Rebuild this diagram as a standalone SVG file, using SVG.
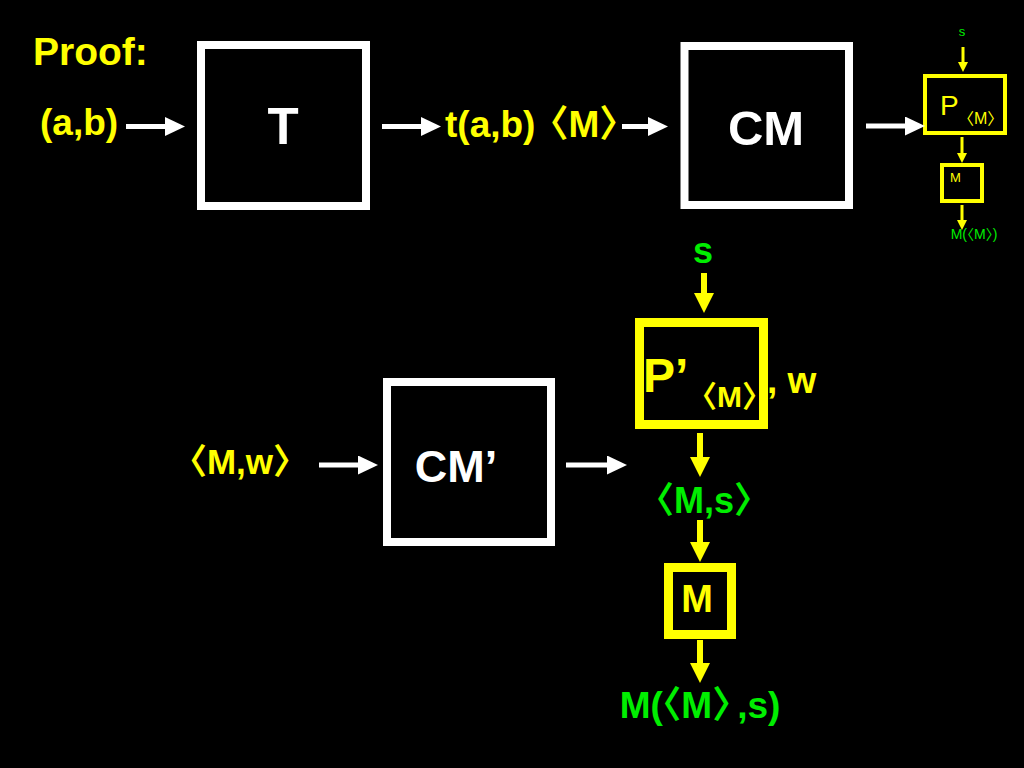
<svg xmlns="http://www.w3.org/2000/svg" width="1024" height="768" viewBox="0 0 1024 768">
<style>
.t{font-family:"Liberation Sans","Noto Sans CJK SC",sans-serif;font-weight:bold}
.r{font-family:"Liberation Sans","Noto Sans CJK SC",sans-serif}
.y{fill:#ffff00}.g{fill:#00ee00}.w{fill:#ffffff}
.wb{fill:none;stroke:#ffffff;stroke-width:8}
.yb{fill:none;stroke:#ffff00;stroke-width:9}
.ys{fill:none;stroke:#ffff00;stroke-width:4}
.wa{stroke:#ffffff;stroke-width:5;marker-end:url(#wh)}
.ya{stroke:#ffff00;stroke-width:6;marker-end:url(#yh)}
.yas{stroke:#ffff00;stroke-width:3;marker-end:url(#ysh)}
</style>
<defs>
<marker id="wh" markerUnits="userSpaceOnUse" markerWidth="20" markerHeight="19" refX="10" refY="9.5" orient="auto"><path d="M0,0 L20,9.5 L0,19 Z" fill="#ffffff"/></marker>
<marker id="yh" markerUnits="userSpaceOnUse" markerWidth="20" markerHeight="20" refX="10" refY="10" orient="auto"><path d="M0,0 L20,10 L0,20 Z" fill="#ffff00"/></marker>
<marker id="ysh" markerUnits="userSpaceOnUse" markerWidth="10" markerHeight="10" refX="4" refY="5" orient="auto"><path d="M0,0 L10,5 L0,10 Z" fill="#ffff00"/></marker>
</defs>
<rect width="1024" height="768" fill="#000000"/>
<text class="t y" x="33" y="65" font-size="39">Proof:</text>
<text class="t y" x="40" y="135" font-size="37">(a,b)</text>
<g id="T"><rect class="wb" x="201" y="45" width="165" height="161"/><text class="t w" x="283" y="144" font-size="51" text-anchor="middle">T</text></g>
<text class="t y" x="445" y="137" font-size="37">t(a,b)<tspan dx="-4">〈M〉</tspan></text>
<g id="CM"><rect class="wb" x="684.5" y="46" width="164.5" height="159"/><text class="t w" x="766" y="145" font-size="49" text-anchor="middle">CM</text></g>
<g id="P_small"><rect class="ys" x="925" y="76" width="80" height="57"/><text class="r y" x="940" y="115" font-size="28">P</text><text class="r y" x="958" y="124" font-size="16">〈M〉</text></g>
<g id="M_small"><rect class="ys" x="942" y="165" width="40" height="36"/><text class="r y" x="950" y="182" font-size="13">M</text></g>
<text class="r g" x="962" y="36" font-size="13" text-anchor="middle">s</text>
<text class="r g" x="974" y="239" font-size="14" text-anchor="middle">M(〈M〉)</text>
<text class="t g" x="703" y="263" font-size="36" text-anchor="middle">s</text>
<g id="Pprime"><rect class="yb" x="639.5" y="322.5" width="124" height="102"/><text class="t y" x="643" y="392" font-size="48">P’</text><text class="t y" x="687" y="407" font-size="30">〈M〉</text></g>
<text class="t y" x="767" y="393" font-size="37">, w</text>
<text class="t g" x="704" y="513" font-size="36" text-anchor="middle">〈M,s〉</text>
<g id="M"><rect class="yb" x="668.5" y="567.5" width="63" height="67"/><text class="t y" x="697" y="612" font-size="38" text-anchor="middle">M</text></g>
<text class="t g" x="700" y="718" font-size="37" text-anchor="middle">M(〈M〉<tspan dx="-12">,s)</tspan></text>
<g id="CMprime"><rect class="wb" x="387" y="382" width="164" height="160"/><text class="t w" x="456" y="482" font-size="45" text-anchor="middle">CM’</text></g>
<text class="t y" x="240" y="474" font-size="35" text-anchor="middle">〈M,w〉</text>
<g id="connectors">
<line class="wa" x1="126" y1="126.5" x2="175" y2="126.5"/>
<line class="wa" x1="382" y1="126.5" x2="431" y2="126.5"/>
<line class="wa" x1="622" y1="126.5" x2="658" y2="126.5"/>
<line class="wa" x1="866" y1="126" x2="915" y2="126"/>
<line class="wa" x1="319" y1="465" x2="368" y2="465"/>
<line class="wa" x1="566" y1="465" x2="617" y2="465"/>
<line class="ya" x1="704" y1="273" x2="704" y2="303"/>
<line class="ya" x1="700" y1="433" x2="700" y2="467"/>
<line class="ya" x1="700" y1="520" x2="700" y2="552"/>
<line class="ya" x1="700" y1="640" x2="700" y2="673"/>
<line class="yas" x1="963" y1="47" x2="963" y2="66"/>
<line class="yas" x1="962" y1="137" x2="962" y2="157"/>
<line class="yas" x1="962" y1="205" x2="962" y2="224"/>
</g>
</svg>
